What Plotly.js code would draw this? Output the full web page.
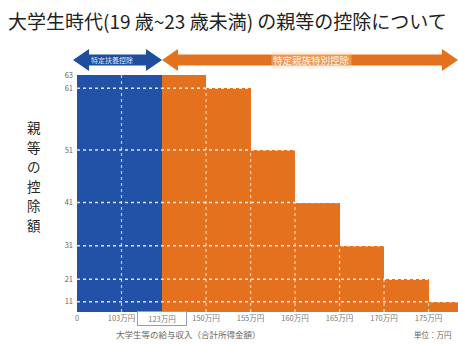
<!DOCTYPE html>
<html><head><meta charset="utf-8">
<script src="https://cdn.plot.ly/plotly-3.0.1.min.js"></script>
<style>html,body{margin:0;padding:0;background:#fff;overflow:hidden;}#chart{width:458px;height:344px;}</style>
</head><body><div id="chart"></div>
<script>
// ---- data ----
const groups = ['特定扶養控除','特定親族特別控除','特定親族特別控除','特定親族特別控除','特定親族特別控除','特定親族特別控除','特定親族特別控除','特定親族特別控除','特定親族特別控除','特定親族特別控除'];
const amounts = [63, 63, 61, 51, 41, 31, 21, 11, 6, 3];           // 控除額（万円）
const widths = [1.9, 1, 1, 1, 1, 1, 1, 1, 1, 1];                 // schematic widths
const yTickValues = [63, 61, 51, 41, 31, 21, 11];
const xTickLabels = ['0', '103万円', '150万円', '155万円', '160万円', '165万円', '170万円', '175万円', '180万円', '185万円', '188万円'];
const boxedLabel = '123万円';
const titleText = '大学生時代(19 歳~23 歳未満) の親等の控除について';
const yTitle = '親等の控除額';
const xNote = '大学生等の給与収入（合計所得金額）';
const unitNote = '単位：万円';

// ---- layout helpers ----
const P = 1.8;                         // schematic power scale as in the reference
const sc = v => Math.pow(v, P);
const colors = {'特定扶養控除':'#2152a8','特定親族特別控除':'#e3711d'};
const L = 77, T = 75, B = 312, W = 458, H = 344, UNIT = 44.5;
const PW = W - L, PH = B - T;
const xmax = PW / UNIT;
const px = x => (x - L) / PW, py = y => (B - y) / PH;

const edges = [0]; widths.forEach(w => edges.push(edges[edges.length-1] + w));
const centers = widths.map((w,i) => edges[i] + w/2);
const xTickVals = [0, 1.0].concat(edges.slice(2));

const font = '"Noto Sans CJK JP", "Noto Sans", sans-serif';

function arrow(x1, x2, yc, color) {
  const hl = 16, hh = 11, sh = 5.5;
  const pts = [[x1,yc],[x1+hl,yc-hh],[x1+hl,yc-sh],[x2-hl,yc-sh],[x2-hl,yc-hh],[x2,yc],[x2-hl,yc+hh],[x2-hl,yc+sh],[x1+hl,yc+sh],[x1+hl,yc+hh]];
  return {type:'path', xref:'paper', yref:'paper', layer:'above', fillcolor:color, line:{width:0},
    path: 'M' + pts.map(p => px(p[0]).toFixed(4) + ',' + py(p[1]).toFixed(4)).join('L') + 'Z'};
}

const shapes = [];
yTickValues.slice(1).forEach(v => shapes.push({type:'line', xref:'x', yref:'y', x0:0, x1:edges[edges.length-1], y0:sc(v), y1:sc(v), layer:'above', line:{color:'rgba(255,255,255,0.85)', width:1.5, dash:'dot'}}));
xTickVals.slice(1).forEach((x,i) => {
  const idx = edges.indexOf(x);
  const top = idx > 0 ? Math.min(amounts[idx-1], amounts[idx] !== undefined ? amounts[idx] : 0) : amounts[0];
  shapes.push({type:'line', xref:'x', yref:'y', x0:x, x1:x, y0:0, y1:sc(top), layer:'above', line:{color:'rgba(255,255,255,0.7)', width:1.2, dash:'dot'}});
});
shapes.push(arrow(73, 162, 60, '#1f4e9e'));
shapes.push(arrow(162, 458, 60, '#e2721e'));

const annotations = [];
[...yTitle].forEach((ch, i) => annotations.push({xref:'paper', yref:'paper', x:px(34), y:py(127 + i*19.5), text:ch, showarrow:false, borderpad:0, font:{family:font, size:13.5, color:'#262626'}, xanchor:'center', yanchor:'middle'}));
annotations.push({xref:'x', yref:'paper', x:edges[1], y:py(318), text:boxedLabel, showarrow:false, width:46, bgcolor:'#fff', bordercolor:'#8d9cc0', borderwidth:1, borderpad:1, font:{family:font, size:7.5, color:'#777'}, xanchor:'center', yanchor:'middle'});
annotations.push({xref:'paper', yref:'paper', x:px(112), y:py(60), text:groups[0], showarrow:false, font:{family:font, size:7, color:'#dfe8ff'}, xanchor:'center', yanchor:'middle'});
annotations.push({xref:'paper', yref:'paper', x:px(311), y:py(60), text:groups[1], showarrow:false, bgcolor:'rgba(255,220,180,0.35)', font:{family:font, size:9.5, color:'#fff6ee'}, xanchor:'center', yanchor:'middle'});
annotations.push({xref:'paper', yref:'paper', x:px(188), y:py(334), text:xNote, showarrow:false, font:{family:font, size:8.5, color:'#666'}, xanchor:'center', yanchor:'middle'});
annotations.push({xref:'paper', yref:'paper', x:px(412), y:py(334), text:unitNote, showarrow:false, font:{family:font, size:7.5, color:'#666'}, xanchor:'left', yanchor:'middle'});

const trace = {
  type:'bar', x:centers, y:amounts.map(sc), width:widths,
  marker:{color:groups.map(g => colors[g]), line:{width:0}},
  text:amounts.map(a => a + '万円'), hoverinfo:'text', textposition:'none'
};

const layout = {
  width:W, height:H, margin:{l:L, r:0, t:T, b:H-B},
  paper_bgcolor:'#fff', plot_bgcolor:'#fff', showlegend:false, bargap:0,
  title:{text:titleText, x:8/W, xanchor:'left', xref:'container', y:1-22/H, yanchor:'middle', yref:'container', font:{family:font, size:19, color:'#222'}},
  xaxis:{range:[0, xmax], tickvals:xTickVals, ticktext:xTickLabels, showgrid:false, zeroline:false, showline:false, ticks:'', tickfont:{family:font, size:7.5, color:'#777'}, fixedrange:true},
  yaxis:{range:[0, sc(63)], tickvals:yTickValues.map(sc), ticktext:yTickValues.map(String), showgrid:false, zeroline:false, showline:false, ticks:'', ticklabelstandoff:3, tickfont:{family:font, size:7.5, color:'#666'}, fixedrange:true},
  shapes:shapes, annotations:annotations
};
Plotly.newPlot('chart', [trace], layout, {displayModeBar:false, staticPlot:true});
</script></body></html>
